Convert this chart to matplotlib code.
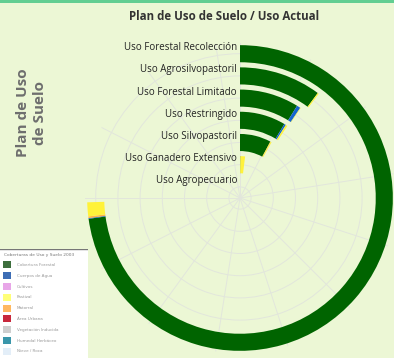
import numpy as np
import matplotlib
matplotlib.use("Agg")
import matplotlib.pyplot as plt
from matplotlib.patches import Rectangle

# ---------------- data ----------------
categories = ["Uso Agropecuario", "Uso Ganadero Extensivo", "Uso Silvopastoril",
              "Uso Restringido", "Uso Forestal Limitado", "Uso Agrosilvopastoril",
              "Uso Forestal Recolección"]

# stacked values per land cover (same order as categories)
cobertura_forestal = [0.0, 0.6, 31.4, 34.4, 35.3, 40.6, 291.3]
cuerpos_agua       = [0.0, 0.0, 0.0, 1.3, 2.2, 0.0, 0.3]
cultivos           = [0.0, 0.0, 0.0, 0.0, 0.0, 0.0, 0.0]
humedal            = [0.0, 0.0, 0.0, 0.0, 0.0, 0.0, 0.0]
matorral           = [0.0, 0.0, 0.4, 0.0, 0.0, 0.0, 0.7]
pastizal           = [0.0, 7.2, 1.0, 1.3, 0.3, 0.6, 5.9]

series_names = ["Cobertura Forestal", "Cuerpos de Agua", "Cultivos",
                "Humedal Herbáceo", "Matorral", "Pastizal"]
series_values = [cobertura_forestal, cuerpos_agua, cultivos, humedal, matorral, pastizal]
series_colors = ["#006400", "#1565d0", "#e8a6e8", "#2e8b99", "#ffb347", "#fff23a"]

angle_max = 400.0
angle_tick_step = 30.0

legend_title = "Coberturas de Uso y Suelo 2003"
legend_labels = ["Cobertura Forestal", "Cuerpos de Agua", "Cultivos", "Pastizal",
                 "Matorral", "Área Urbana", "Vegetación Inducida",
                 "Humedal Herbáceo", "Nieve / Roca"]
legend_colors = ["#3d6e3d", "#3d6db5", "#e8a6e8", "#ffff77", "#ffb860",
                 "#c8283c", "#cfcfcf", "#3a96aa", "#e3eef8"]

title = "Plan de Uso de Suelo / Uso Actual"
ylabel = "Plan de Uso\nde Suelo"

# ---------------- figure ----------------
W, H = 394, 358
DPI = 100
bg = "#ecf7d5"
fig = plt.figure(figsize=(W / DPI, H / DPI), dpi=DPI, facecolor=bg)

# top accent stripe
fig.patches.append(Rectangle((0, 1 - 3 / H), 1, 3 / H, transform=fig.transFigure,
                             facecolor="#62ce92", edgecolor="none", zorder=5))

cx, cy = 240, 198          # center in pixels (from top-left)
rpx = 155.4                # pixel radius of r = 7
ax = fig.add_axes([(cx - rpx) / W, (H - cy - rpx) / H, 2 * rpx / W, 2 * rpx / H],
                  projection="polar")
ax.set_facecolor("none")
ax.set_theta_zero_location("N")
ax.set_theta_direction(-1)
ax.set_ylim(0, 7)
ax.spines["polar"].set_visible(False)
ax.set_axisbelow(True)

n = len(categories)
rcenters = np.arange(n) + 0.5
ax.set_yticks(rcenters)
ax.set_yticklabels([])
ticks = np.arange(0, angle_max, angle_tick_step)
ax.set_xticks(ticks / angle_max * 2 * np.pi)
ax.set_xticklabels([])
ax.grid(True, color="#e2e6dc", linewidth=0.7)
ax.tick_params(length=0)

thick = 0.77
cum = np.zeros(n)
for vals, col in zip(series_values, series_colors):
    vals = np.asarray(vals, dtype=float)
    start = cum / angle_max * 2 * np.pi
    width = vals / angle_max * 2 * np.pi
    mask = vals > 0
    ax.bar(start[mask], thick, width=width[mask], bottom=rcenters[mask] - thick / 2,
           align="edge", color=col, edgecolor="none", linewidth=0, zorder=3)
    cum += vals

for r, name in zip(rcenters, categories):
    ax.annotate(name, xy=(0, r), xytext=(-3, 6), textcoords="offset pixels",
                ha="right", va="center", fontsize=7.0, color="#222222",
                family="Open Sans", zorder=6, annotation_clip=False)

fig.text(224 / W, 1 - 16 / H, title, ha="center", va="center", fontsize=8.3,
         fontweight="bold", color="#333333", family="Open Sans")

fig.text(31.5 / W, 1 - 113 / H, ylabel, ha="center", va="center", rotation=90,
         fontsize=11, fontweight="bold", color="#6e6e6e", family="Open Sans",
         linespacing=1.25)

# ---------------- legend box (bottom-left) ----------------
lx0, ly0 = 0, 249
lax = fig.add_axes([lx0 / W, 0, 88 / W, (H - ly0) / H])
lax.set_xlim(0, 88)
lax.set_ylim(H, ly0)
lax.axis("off")
lax.add_patch(Rectangle((0, ly0), 88, H - ly0, facecolor="white", edgecolor="none"))
lax.plot([0, 88], [ly0 + 0.5, ly0 + 0.5], color="#777777", lw=1.0)
lax.plot([87.5, 87.5], [ly0, H], color="#dddddd", lw=0.6)
lax.text(4, 255, legend_title, fontsize=3.2, color="#777777", va="center", ha="left")
for k, (lab, col) in enumerate(zip(legend_labels, legend_colors)):
    y = 265 + k * 10.8
    lax.add_patch(Rectangle((3, y - 3.5), 7.5, 7, facecolor=col, edgecolor="none"))
    lax.text(17, y, lab, fontsize=3.0, color="#999999", va="center", ha="left")

fig.savefig("out.png", dpi=DPI, facecolor=bg)
